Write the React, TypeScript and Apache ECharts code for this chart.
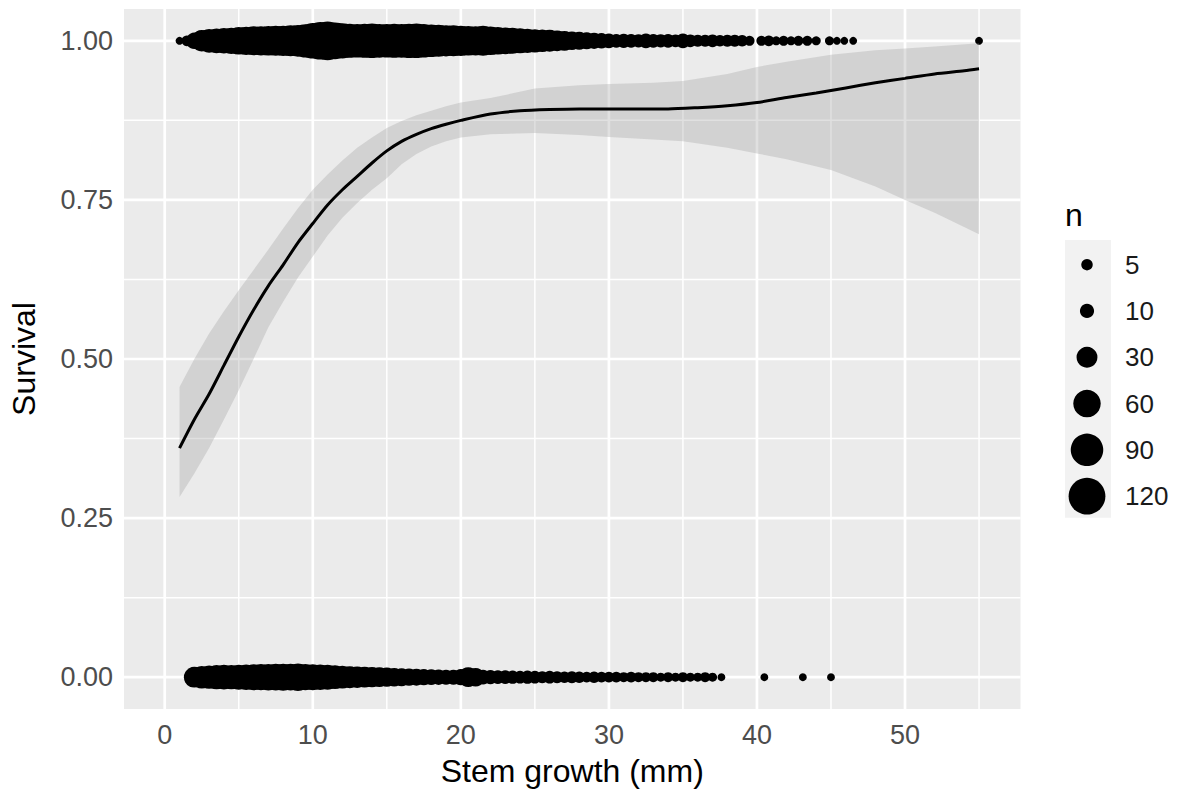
import React, { useEffect, useRef } from "react";
import * as echarts from "echarts";

const FONT = "'Liberation Sans', Arial, Helvetica, sans-serif";

// axis ticks / grid
const xTicks = [0, 10, 20, 30, 40, 50];
const xMinor = [5, 15, 25, 35, 45, 55];
const yTicks = [0, 0.25, 0.5, 0.75, 1];
const yMinor = [0.125, 0.375, 0.625, 0.875];

// survived (y = 1): stem growth and number of trees
const aliveX = [
  1.0, 1.5, 2.0, 2.5, 3.0, 3.5, 4.0, 4.5, 5.0, 5.5, 6.0, 6.5, 7.0, 7.5, 8.0, 8.5, 9.0, 9.5,
  10.0, 10.5, 11.0, 11.5, 12.0, 12.5, 13.0, 13.5, 14.0, 14.5, 15.0, 15.5, 16.0, 16.5, 17.0,
  17.5, 18.0, 18.5, 19.0, 19.5, 20.0, 20.5, 21.0, 21.5, 22.0, 22.5, 23.0, 23.5, 24.0, 24.5,
  25.0, 25.5, 26.0, 26.5, 27.0, 27.5, 28.0, 28.5, 29.0, 29.5, 30.0, 30.5, 31.0, 31.5, 32.0,
  32.5, 33.0, 33.5, 34.0, 34.5, 35.0, 35.5, 36.0, 36.5, 37.0, 37.5, 38.0, 38.5, 39.0, 39.5,
  40.3, 40.8, 41.3, 41.8, 42.3, 42.8, 43.4, 44.0, 44.9, 45.4, 45.9, 46.5, 55.0,
];
const aliveN = [
  1, 4, 16, 32, 42, 46, 50, 54, 60, 64, 68, 70, 72, 74, 76, 80, 85, 95,
  110, 125, 135, 120, 108, 100, 96, 100, 104, 98, 96, 100, 98, 102, 104,
  96, 90, 86, 82, 80, 76, 72, 70, 74, 66, 60, 56, 52, 48, 44,
  40, 36, 34, 30, 26, 22, 20, 17, 15, 13, 11, 9, 10, 9, 8,
  11, 9, 8, 9, 7, 11, 7, 6, 6, 7, 5, 6, 6, 5, 3,
  3, 4, 2, 3, 2, 3, 3, 2, 2, 1, 1, 1, 1,
];

// died (y = 0)
const deadX = [
  2.0, 2.5, 3.0, 3.5, 4.0, 4.5, 5.0, 5.5, 6.0, 6.5, 7.0, 7.5, 8.0, 8.5, 9.0, 9.5, 10.0,
  10.5, 11.0, 11.5, 12.0, 12.5, 13.0, 13.5, 14.0, 14.5, 15.0, 15.5, 16.0, 16.5, 17.0, 17.5,
  18.0, 18.5, 19.0, 19.5, 20.0, 20.5, 21.0, 21.5, 22.0, 22.5, 23.0, 23.5, 24.0, 24.5, 25.0,
  25.5, 26.0, 26.5, 27.0, 27.5, 28.0, 28.5, 29.0, 29.5, 30.0, 30.5, 31.0, 31.5, 32.0, 32.5,
  33.0, 33.5, 34.0, 34.5, 35.0, 35.5, 36.0, 36.5, 37.0, 37.6, 40.5, 43.1, 45.0,
];
const deadN = [
  30, 36, 40, 44, 46, 44, 48, 50, 52, 54, 55, 56, 58, 56, 60, 54, 52,
  50, 48, 42, 38, 34, 32, 30, 28, 26, 24, 22, 20, 18, 17, 15,
  14, 13, 12, 12, 15, 26, 22, 11, 10, 9, 9, 8, 7, 8, 7,
  6, 7, 6, 5, 6, 5, 4, 5, 4, 4, 4, 3, 4, 3, 3,
  3, 2, 3, 2, 3, 2, 2, 3, 2, 1, 1, 1, 1,
];

// smoothed fit
const fitX = [
  1, 2, 3, 4, 5, 6, 7, 8, 9, 10, 11, 12, 13, 14, 15, 16, 17, 18, 19, 20,
  22, 24, 26, 28, 30, 32, 34, 36, 38, 40, 42, 44, 46, 48, 50, 52, 54, 55,
];
const fitY = [
  0.36, 0.405, 0.445, 0.49, 0.535, 0.577, 0.615, 0.648, 0.683, 0.713, 0.742, 0.766, 0.787,
  0.808, 0.827, 0.842, 0.853, 0.862, 0.869, 0.875,
  0.885, 0.89, 0.892, 0.893, 0.893, 0.893, 0.893, 0.895, 0.898, 0.903, 0.911, 0.918, 0.926,
  0.934, 0.941, 0.948, 0.953, 0.956,
];

// confidence band
const bandX = [
  1, 2, 3, 4, 5, 6, 7, 8, 9, 10, 11, 12, 13, 14, 15, 16, 17, 18, 19, 20,
  22, 25, 28, 30, 33, 35, 38, 40, 42, 45, 48, 50, 52, 55,
];
const bandUpper = [
  0.456, 0.5, 0.54, 0.575, 0.608, 0.64, 0.672, 0.705, 0.737, 0.766, 0.79, 0.812, 0.832,
  0.848, 0.863, 0.874, 0.883, 0.89, 0.897, 0.903,
  0.91, 0.925, 0.93, 0.932, 0.934, 0.937, 0.948, 0.959, 0.967, 0.978, 0.985, 0.988, 0.991, 0.996,
];
const bandLower = [
  0.283, 0.32, 0.36, 0.405, 0.451, 0.5, 0.55, 0.59, 0.628, 0.661, 0.694, 0.722, 0.745,
  0.766, 0.784, 0.806, 0.822, 0.834, 0.842, 0.848,
  0.853, 0.855, 0.852, 0.849, 0.845, 0.842, 0.832, 0.823, 0.814, 0.797, 0.771, 0.75, 0.73, 0.696,
];

// size legend
const legendN = [5, 10, 30, 60, 90, 120];

const sizeOf = (n: number) => 5 + 2.9 * Math.sqrt(n);

export default function App() {
  const ref = useRef<HTMLDivElement>(null);

  useEffect(() => {
    document.body.style.margin = "0";
    const chart = echarts.init(ref.current!, null, { renderer: "svg" });

    const vGrid = (vals: number[], w: number) => ({
      type: "custom",
      coordinateSystem: "cartesian2d",
      silent: true,
      z: 1,
      data: vals.map((v) => [v, 0]),
      renderItem: (params: any, api: any) => {
        const cs = params.coordSys;
        const p = api.coord([api.value(0), 0]);
        return {
          type: "line",
          shape: { x1: p[0], y1: cs.y, x2: p[0], y2: cs.y + cs.height },
          style: { stroke: "#ffffff", lineWidth: w },
        };
      },
    });
    const hGrid = (vals: number[], w: number) => ({
      type: "custom",
      coordinateSystem: "cartesian2d",
      silent: true,
      z: 1,
      data: vals.map((v) => [0, v]),
      renderItem: (params: any, api: any) => {
        const cs = params.coordSys;
        const p = api.coord([0, api.value(1)]);
        return {
          type: "line",
          shape: { x1: cs.x, y1: p[1], x2: cs.x + cs.width, y2: p[1] },
          style: { stroke: "#ffffff", lineWidth: w },
        };
      },
    });

    const legendTop = 240;
    const keyH = 46.3;
    const legendEls: any[] = [
      {
        type: "text",
        x: 1065,
        y: 215,
        style: { text: "n", fontSize: 32, fontFamily: FONT, fill: "#000", verticalAlign: "middle" },
      },
      {
        type: "rect",
        shape: { x: 1065, y: legendTop, width: 46, height: keyH * legendN.length },
        style: { fill: "#f2f2f2" },
      },
    ];
    legendN.forEach((n, i) => {
      const cy = legendTop + 1.5 + keyH / 2 + keyH * i;
      legendEls.push({
        type: "circle",
        shape: { cx: 1087, cy, r: sizeOf(n) / 2 },
        style: { fill: "#000" },
      });
      legendEls.push({
        type: "text",
        x: 1125,
        y: cy,
        style: { text: String(n), fontSize: 26, fontFamily: FONT, fill: "#1a1a1a", verticalAlign: "middle" },
      });
    });

    const option: any = {
      animation: false,
      backgroundColor: "#ffffff",
      grid: {
        left: 124,
        right: 157.5,
        top: 9,
        bottom: 87,
        show: true,
        backgroundColor: "#ebebeb",
        borderWidth: 0,
        containLabel: false,
      },
      xAxis: {
        type: "value",
        min: -2.75,
        max: 57.8,
        axisLine: { show: false },
        axisTick: { show: true, customValues: xTicks, length: 7, lineStyle: { color: "#333333", width: 2 } },
        axisLabel: { customValues: xTicks, margin: 12, fontSize: 27, color: "#4d4d4d", fontFamily: FONT },
        splitLine: { show: false },
        name: "Stem growth (mm)",
        nameLocation: "middle",
        nameGap: 46,
        nameTextStyle: { fontSize: 32, color: "#000", fontFamily: FONT },
      },
      yAxis: {
        type: "value",
        min: -0.05,
        max: 1.05,
        axisLine: { show: false },
        axisTick: { show: true, customValues: yTicks, length: 7, lineStyle: { color: "#333333", width: 2 } },
        axisLabel: {
          customValues: yTicks,
          margin: 11,
          fontSize: 27,
          color: "#4d4d4d",
          fontFamily: FONT,
          formatter: (v: number) => v.toFixed(2),
        },
        splitLine: { show: false },
        name: "Survival",
        nameLocation: "middle",
        nameGap: 84,
        nameTextStyle: { fontSize: 32, color: "#000", fontFamily: FONT },
      },
      graphic: legendEls,
      series: [
        vGrid(xMinor, 1.5),
        hGrid(yMinor, 1.5),
        vGrid(xTicks, 2.7),
        hGrid(yTicks, 2.7),
        {
          type: "scatter",
          silent: true,
          z: 2,
          data: aliveX.map((x, i) => [x, 1, aliveN[i]]),
          symbol: "circle",
          symbolSize: (d: number[]) => sizeOf(d[2]),
          itemStyle: { color: "#000000", opacity: 1 },
        },
        {
          type: "scatter",
          silent: true,
          z: 2,
          data: deadX.map((x, i) => [x, 0, deadN[i]]),
          symbol: "circle",
          symbolSize: (d: number[]) => sizeOf(d[2]),
          itemStyle: { color: "#000000", opacity: 1 },
        },
        {
          type: "custom",
          coordinateSystem: "cartesian2d",
          silent: true,
          z: 3,
          data: [[bandX[0], bandLower[0]]],
          renderItem: (params: any, api: any) => {
            const pts: number[][] = [];
            for (let i = 0; i < bandX.length; i++) pts.push(api.coord([bandX[i], bandUpper[i]]));
            for (let i = bandX.length - 1; i >= 0; i--) pts.push(api.coord([bandX[i], bandLower[i]]));
            return {
              type: "polygon",
              shape: { points: pts },
              style: { fill: "rgba(153,153,153,0.3)" },
            };
          },
        },
        {
          type: "line",
          silent: true,
          z: 4,
          data: fitX.map((x, i) => [x, fitY[i]]),
          showSymbol: false,
          symbol: "none",
          smooth: 0.25,
          lineStyle: { color: "#000000", width: 3 },
        },
      ],
    };

    chart.setOption(option);
    return () => chart.dispose();
  }, []);

  return <div ref={ref} style={{ width: 1178, height: 796 }} />;
}
